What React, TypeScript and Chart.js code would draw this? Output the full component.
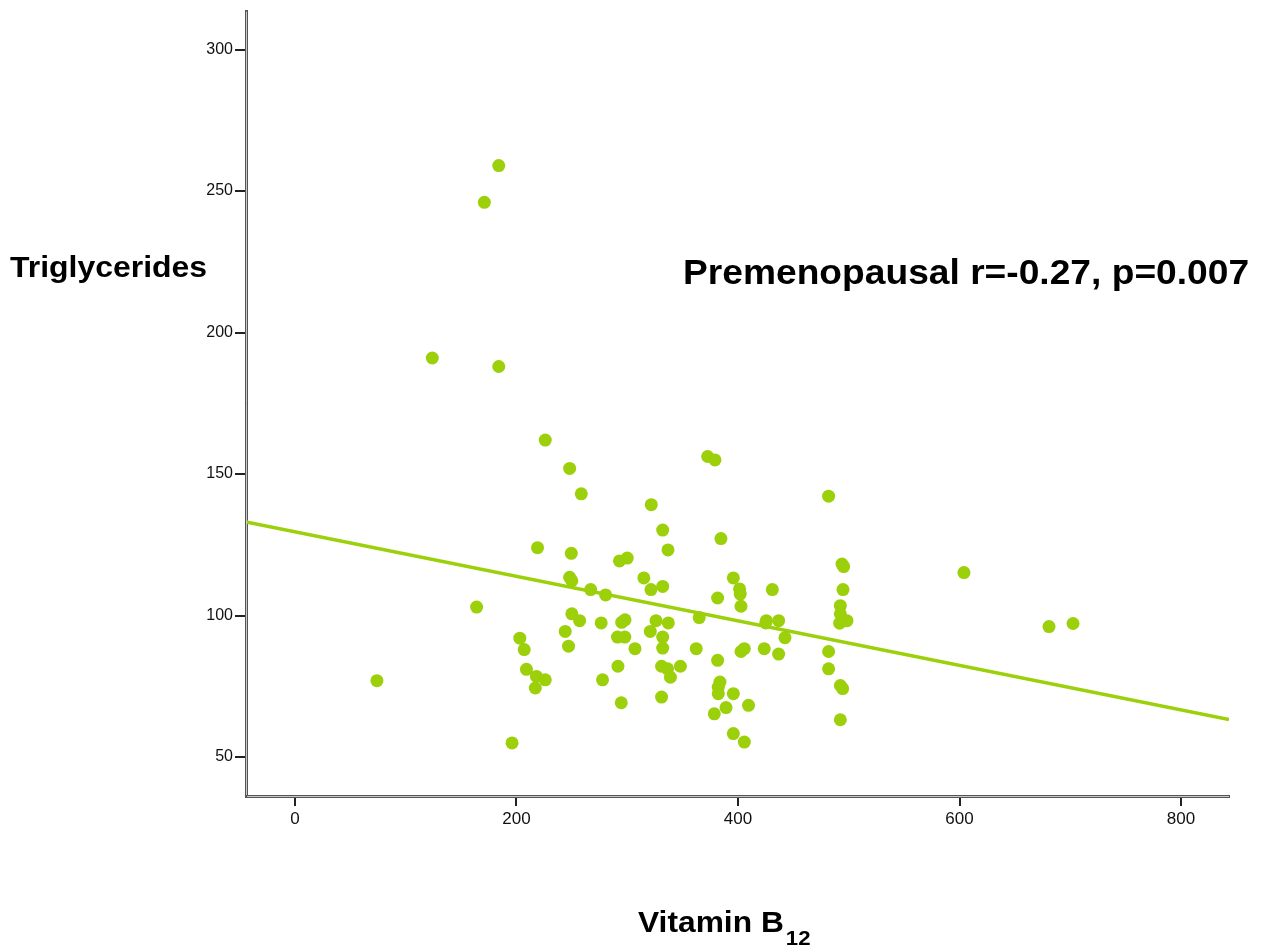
import React, { useEffect, useRef } from "react";
import { Chart, registerables } from "chart.js";

Chart.register(...registerables);

const vitaminB12: number[] = [
  74, 124, 164, 171, 184, 184, 196, 203, 207, 209, 218, 217, 226, 219, 226, 248, 249.5, 248, 250, 250,
  257, 244, 247, 258.5, 267, 276.5, 277.7, 280.5, 293, 300, 291.6, 291.2, 297.8, 294.6, 295, 298, 307, 315,
  321.7, 321.4, 320.8, 326, 332, 332, 332, 332, 331, 336.4, 331, 336.8, 337.1, 339, 348, 365, 362.3, 372.6,
  379.2, 384.6, 381.6, 381.6, 378.6, 383.7, 382.2, 382.2, 389.2, 395.8, 395.8, 395.8, 401.4, 402, 402.7,
  402.7, 405.7, 405.7, 409.5, 423.7, 425.6, 425, 431, 436.7, 436.7, 442.4, 481.8, 481.8, 481.8, 493.9,
  495.4, 494.8, 492.4, 492.4, 491.8, 498.4, 492.4, 494.5, 492.4, 604, 680.8, 702.5,
];
const triglycerides: number[] = [
  77, 191, 103, 246, 259, 188, 55, 92, 88, 81, 78.5, 74.4, 77.3, 124, 162, 152, 122, 113.5, 112.3, 100.6,
  98.2, 94.4, 89.2, 143, 109.2, 97.4, 77.3, 107.3, 119.3, 120.3, 82.1, 92.4, 92.4, 69.2, 97.6, 98.5, 88.3, 113.3,
  139.2, 109.2, 94.4, 98.2, 130.2, 110.3, 92.4, 88.5, 82.1, 81.2, 71.2, 123.2, 97.4, 78.2, 82.1, 99.3, 88.3, 156.2,
  155, 127.2, 106.2, 84.2, 65.3, 76.5, 74.7, 72.4, 67.5, 113.3, 72.4, 58.3, 109.4, 107.6, 103.3,
  87.3, 88.3, 55.3, 68.3, 88.3, 98.2, 97.4, 109.2, 98.2, 86.4, 92.2, 142.2, 87.3, 81.2, 118.2,
  117.3, 109.2, 103.5, 100.6, 97.3, 98.2, 75.3, 74.2, 63.2, 115.2, 96.1, 97.2,
];

// Fit line endpoints
const fitX: number[] = [-44.2, 843.3];
const fitY: number[] = [133.1, 63.3];

const xTicks: number[] = [0, 200, 400, 600, 800];
const yTicks: number[] = [50, 100, 150, 200, 250, 300];

const xTitle = "Vitamin B";
const xTitleSub = "12";
const yTitle = "Triglycerides";
const annotation = "Premenopausal r=-0.27, p=0.007";

const GREEN = "#9bd00a";
const FONT = "'Liberation Sans', Arial, Helvetica, sans-serif";

function stretchedText(ctx: CanvasRenderingContext2D, text: string, x: number, y: number, sx: number) {
  ctx.save();
  ctx.translate(x, y);
  ctx.scale(sx, 1);
  ctx.fillText(text, 0, 0);
  ctx.restore();
  return ctx.measureText(text).width * sx;
}

export default function App() {
  const canvasRef = useRef<HTMLCanvasElement | null>(null);

  useEffect(() => {
    const canvas = canvasRef.current;
    if (!canvas) return;

    const textPlugin = {
      id: "texts",
      afterDraw(chart: any) {
        const ctx = chart.ctx as CanvasRenderingContext2D;
        const area = chart.chartArea;
        ctx.save();
        // light center stroke inside the axis lines (double-line look)
        ctx.strokeStyle = "#c9c9c9";
        ctx.lineWidth = 1;
        ctx.beginPath();
        ctx.moveTo(area.left + 0.5, area.top);
        ctx.lineTo(area.left + 0.5, area.bottom - 1);
        ctx.moveTo(area.left + 1, area.bottom + 0.5);
        ctx.lineTo(area.right, area.bottom + 0.5);
        ctx.stroke();

        ctx.fillStyle = "#000";
        ctx.textBaseline = "alphabetic";
        ctx.textAlign = "left";
        ctx.font = `bold 30px ${FONT}`;
        stretchedText(ctx, yTitle, 10, 277, 1.065);

        ctx.font = `bold 35px ${FONT}`;
        stretchedText(ctx, annotation, 683, 284, 1.062);

        ctx.font = `bold 30px ${FONT}`;
        const w = stretchedText(ctx, xTitle, 638, 932, 1.058);
        ctx.font = `bold 21px ${FONT}`;
        stretchedText(ctx, xTitleSub, 638 + w + 2, 945, 1.058);
        ctx.restore();
      },
    };

    const chart = new Chart(canvas, {
      type: "scatter",
      data: {
        datasets: [
          {
            type: "scatter",
            label: "points",
            data: vitaminB12.map((x, i) => ({ x, y: triglycerides[i] })),
            backgroundColor: GREEN,
            borderWidth: 0,
            pointRadius: 6.5,
            order: 1,
          },
          {
            type: "line",
            label: "fit",
            data: fitX.map((x, i) => ({ x, y: fitY[i] })),
            borderColor: GREEN,
            borderWidth: 3.5,
            pointRadius: 0,
            fill: false,
            order: 2,
          } as any,
        ],
      },
      options: {
        animation: false,
        responsive: false,
        layout: { padding: { top: 10, right: 32, left: 0, bottom: 0 } },
        plugins: {
          legend: { display: false },
          tooltip: { enabled: false },
        },
        scales: {
          x: {
            type: "linear",
            min: -44.2,
            max: 843.3,
            afterFit(scale: any) {
              scale.height = 154;
            },
            afterBuildTicks(scale: any) {
              scale.ticks = xTicks.map((v) => ({ value: v }));
            },
            border: { display: true, color: "#555", width: 3 },
            grid: {
              display: true,
              drawOnChartArea: false,
              drawTicks: true,
              tickLength: 10,
              color: "#222",
              lineWidth: 2,
            },
            ticks: {
              color: "#111",
              padding: 3,
              font: { family: FONT, size: 17 },
              maxRotation: 0,
            },
          },
          y: {
            type: "linear",
            min: 36.25,
            max: 313.4,
            afterFit(scale: any) {
              scale.width = 246;
            },
            afterBuildTicks(scale: any) {
              scale.ticks = yTicks.map((v) => ({ value: v }));
            },
            border: { display: true, color: "#555", width: 3 },
            grid: {
              display: true,
              drawOnChartArea: false,
              drawTicks: true,
              tickLength: 11,
              color: "#222",
              lineWidth: 2,
            },
            ticks: {
              color: "#111",
              padding: 2,
              font: { family: FONT, size: 16 },
            },
          },
        },
      },
      plugins: [textPlugin],
    });

    return () => {
      chart.destroy();
    };
  }, []);

  return (
    <div style={{ position: "fixed", left: 0, top: 0, width: 1261, height: 950, background: "#fff" }}>
      <canvas ref={canvasRef} width={1261} height={950} style={{ display: "block" }} />
    </div>
  );
}
